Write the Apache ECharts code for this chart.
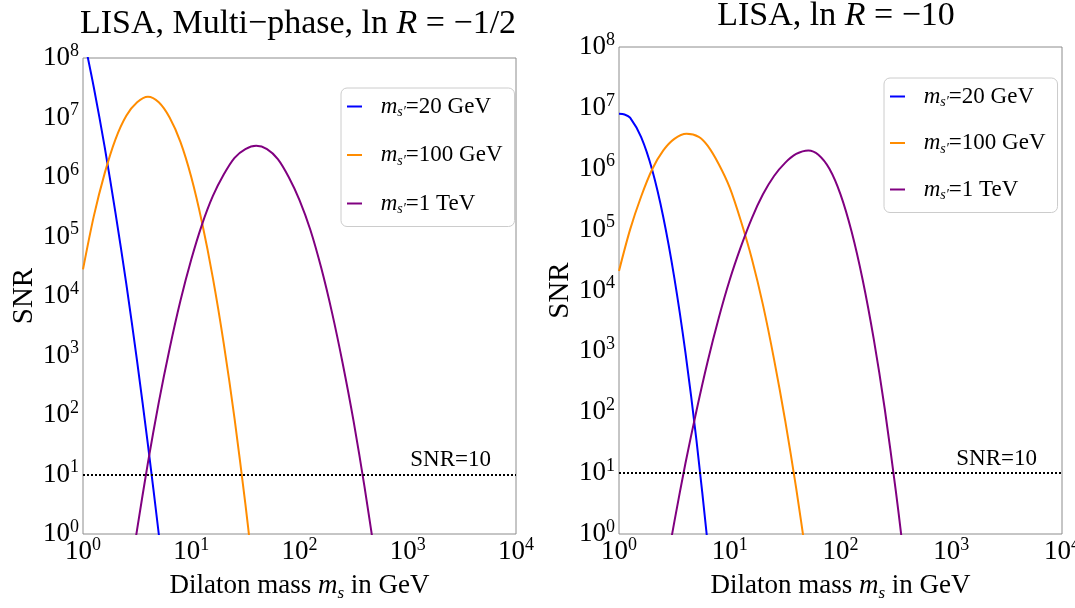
<!DOCTYPE html>
<html>
<head>
<meta charset="utf-8">
<title>LISA SNR</title>
<script src="https://cdn.jsdelivr.net/npm/echarts@6/dist/echarts.min.js"></script>
<style>
  html, body { margin: 0; padding: 0; background: #fff; }
  #chart { width: 1075px; height: 608px; }
</style>
</head>
<body>
<div id="chart"></div>
<script>
// [dilaton mass m_s (GeV), SNR]
var leftBlue = [[1, 2.5e8], [1.259, 3.2e7], [1.585, 3.2e6], [1.995, 2.5e5], [2.512, 1.6e4], [3.162, 794], [3.981, 31.6], [5.012, 1.0], [5.623, 0.16]];
var leftOrange = [[1, 2.8e4], [1.259, 2.2e5], [1.585, 1.15e6], [1.995, 4.3e6], [2.512, 1.07e7], [3.162, 1.8e7], [3.981, 2.24e7], [5.012, 1.8e7], [6.31, 1.0e7], [7.943, 3.9e6], [10, 1.0e6], [12.59, 1.7e5], [15.85, 2.0e4], [19.95, 1.6e3], [25.12, 87], [31.62, 3.2], [35.48, 0.52], [39.81, 0.08]];
var leftPurple = [[2.818, 0.30], [3.162, 1.2], [3.981, 15.8], [5.012, 163], [6.31, 1.3e3], [7.943, 8.3e3], [10, 4.1e4], [12.59, 1.6e5], [15.85, 4.8e5], [19.95, 1.1e6], [25.12, 2.1e6], [31.62, 2.95e6], [39.81, 3.35e6], [50.12, 2.95e6], [63.1, 2.0e6], [79.43, 1.0e6], [100, 4.1e5], [125.9, 1.3e5], [158.5, 3.0e4], [199.5, 5.3e3], [251.2, 720], [316.2, 78], [398.1, 6.3], [501.2, 0.40]];

var rightBlue = [[1, 8.0e6], [1.122, 7.8e6], [1.259, 6.9e6], [1.585, 3.3e6], [1.995, 9.5e5], [2.512, 1.6e5], [3.162, 1.6e4], [3.981, 955], [5.012, 34], [6.31, 0.71], [7.079, 0.085]];
var rightOrange = [[1, 2.1e4], [1.259, 1.0e5], [1.585, 3.5e5], [1.995, 9.8e5], [2.512, 2.0e6], [3.162, 3.1e6], [4.074, 3.75e6], [5.248, 3.35e6], [6.31, 2.4e6], [7.943, 1.2e6], [10, 4.9e5], [12.59, 1.4e5], [15.85, 3.3e4], [19.95, 5.8e3], [25.12, 740], [31.62, 74], [39.81, 5.6], [50.12, 0.32]];
var rightPurple = [[2.818, 0.49], [3.162, 1.6], [3.981, 14.5], [5.012, 107], [6.31, 676], [7.943, 3.5e3], [10, 1.5e4], [12.59, 5.2e4], [15.85, 1.55e5], [19.95, 3.8e5], [25.12, 7.6e5], [31.62, 1.25e6], [39.81, 1.75e6], [51.29, 2.0e6], [63.1, 1.7e6], [79.43, 1.0e6], [100, 3.8e5], [125.9, 9.3e4], [158.5, 1.5e4], [199.5, 1.6e3], [251.2, 112], [316.2, 5.0], [354.8, 0.91], [398.1, 0.15]];

var seriesNames = ['20 GeV', '100 GeV', '1 TeV'];
var colors = ['#0000ff', '#ff8c00', '#800080'];
var snrThreshold = 10;
var titles = ['{n|LISA, Multi\u2212phase, ln }{i|R}{n| = \u22121/2}', '{n|LISA, ln }{i|R}{n| = \u221210}'];

var FONT = 'Liberation Serif';

var grids = [
  { left: 83, top: 58, width: 433, height: 476 },
  { left: 619, top: 47, width: 443, height: 487 }
];

function powLabel(v) {
  return '{b|10}{s|' + Math.round(Math.log10(v)) + '}';
}

var tickRich = {
  b: { fontFamily: FONT, fontSize: 27, color: '#000', lineHeight: 32 },
  s: { fontFamily: FONT, fontSize: 18, color: '#000', lineHeight: 18, verticalAlign: 'top' }
};

function mkX(i) {
  return {
    type: 'log', logBase: 10, min: 1, max: 10000, gridIndex: i,
    splitNumber: 4,
    axisLine: { show: false }, axisTick: { show: false }, splitLine: { show: false },
    axisLabel: { formatter: powLabel, rich: tickRich, margin: 2, hideOverlap: false, showMinLabel: true, showMaxLabel: true },
    name: '{n|Dilaton mass }{i|m}{sub|s}{n| in GeV}',
    nameLocation: 'middle', nameGap: 36,
    nameTextStyle: {
      rich: {
        n: { fontFamily: FONT, fontSize: 27, color: '#000', lineHeight: 32 },
        i: { fontFamily: FONT, fontSize: 27, fontStyle: 'italic', color: '#000', lineHeight: 32 },
        sub: { fontFamily: FONT, fontSize: 17, fontStyle: 'italic', color: '#000', lineHeight: 17, verticalAlign: 'bottom' }
      }
    }
  };
}

function mkY(i) {
  return {
    type: 'log', logBase: 10, min: 1, max: 1e8, gridIndex: i,
    splitNumber: 8,
    axisLine: { show: false }, axisTick: { show: false }, splitLine: { show: false },
    axisLabel: { formatter: powLabel, rich: tickRich, margin: 4, hideOverlap: false, showMinLabel: true, showMaxLabel: true },
    name: 'SNR', nameLocation: 'middle', nameGap: 38, nameRotate: 90,
    nameTextStyle: { fontFamily: FONT, fontSize: 29, color: '#000' }
  };
}

function curve(name, data, i, c) {
  return {
    name: name, type: 'line', data: data,
    xAxisIndex: i, yAxisIndex: i,
    showSymbol: false, smooth: 0.3, clip: true,
    lineStyle: { color: c, width: 2 },
    itemStyle: { color: c },
    silent: true
  };
}

function threshold(i) {
  return {
    name: 'threshold', type: 'line', data: [],
    xAxisIndex: i, yAxisIndex: i, silent: true,
    markLine: {
      silent: true, symbol: 'none', animation: false,
      lineStyle: { color: '#000', type: 'dotted', width: 2 },
      label: {
        position: 'insideEndTop', formatter: 'SNR=10', distance: [25, 3],
        fontFamily: FONT, fontSize: 23, color: '#000'
      },
      data: [{ yAxis: snrThreshold }]
    }
  };
}

var legendRich = {
  i: { fontFamily: FONT, fontSize: 23, fontStyle: 'italic', color: '#000', lineHeight: 26 },
  sub: { fontFamily: FONT, fontSize: 14, fontStyle: 'italic', color: '#000', lineHeight: 14, verticalAlign: 'bottom' },
  n: { fontFamily: FONT, fontSize: 23, color: '#000', lineHeight: 26 }
};

function mkLegend(left, top, gap) {
  return {
    data: seriesNames, orient: 'vertical', left: left, top: top,
    selectedMode: false, icon: 'rect', itemWidth: 15, itemHeight: 2, itemGap: gap,
    backgroundColor: '#fff', borderColor: '#cccccc', borderWidth: 1, borderRadius: 6,
    padding: [7, 12, 10, 6],
    formatter: function (name) { return '{i| m}{sub|s\u2032}{n|=' + name + '}'; },
    textStyle: { rich: legendRich, padding: [0, 0, 0, 8] }
  };
}

var titleRich = {
  n: { fontFamily: FONT, fontSize: 34, fill: '#000' },
  i: { fontFamily: FONT, fontSize: 34, fontStyle: 'italic', fill: '#000' }
};

var myChart = echarts.init(document.getElementById('chart'), null, { renderer: 'canvas' });
var option = {
  animation: false,
  backgroundColor: '#fff',
  grid: grids.map(function (g) {
    return Object.assign({ show: true, borderColor: '#8c8c8c', borderWidth: 1, backgroundColor: 'transparent', containLabel: false, outerBoundsMode: 'none' }, g);
  }),
  xAxis: [mkX(0), mkX(1)],
  yAxis: [mkY(0), mkY(1)],
  legend: [mkLegend(341, 88, 24), mkLegend(884, 78, 22)],
  graphic: [
    { type: 'text', x: 298, y: 24, silent: true,
      style: { text: titles[0], align: 'center', verticalAlign: 'middle', rich: titleRich } },
    { type: 'text', x: 836, y: 16, silent: true,
      style: { text: titles[1], align: 'center', verticalAlign: 'middle', rich: titleRich } }
  ],
  series: [
    curve(seriesNames[0], leftBlue, 0, colors[0]),
    curve(seriesNames[1], leftOrange, 0, colors[1]),
    curve(seriesNames[2], leftPurple, 0, colors[2]),
    threshold(0),
    curve(seriesNames[0], rightBlue, 1, colors[0]),
    curve(seriesNames[1], rightOrange, 1, colors[1]),
    curve(seriesNames[2], rightPurple, 1, colors[2]),
    threshold(1)
  ]
};
option && myChart.setOption(option);
</script>
</body>
</html>
